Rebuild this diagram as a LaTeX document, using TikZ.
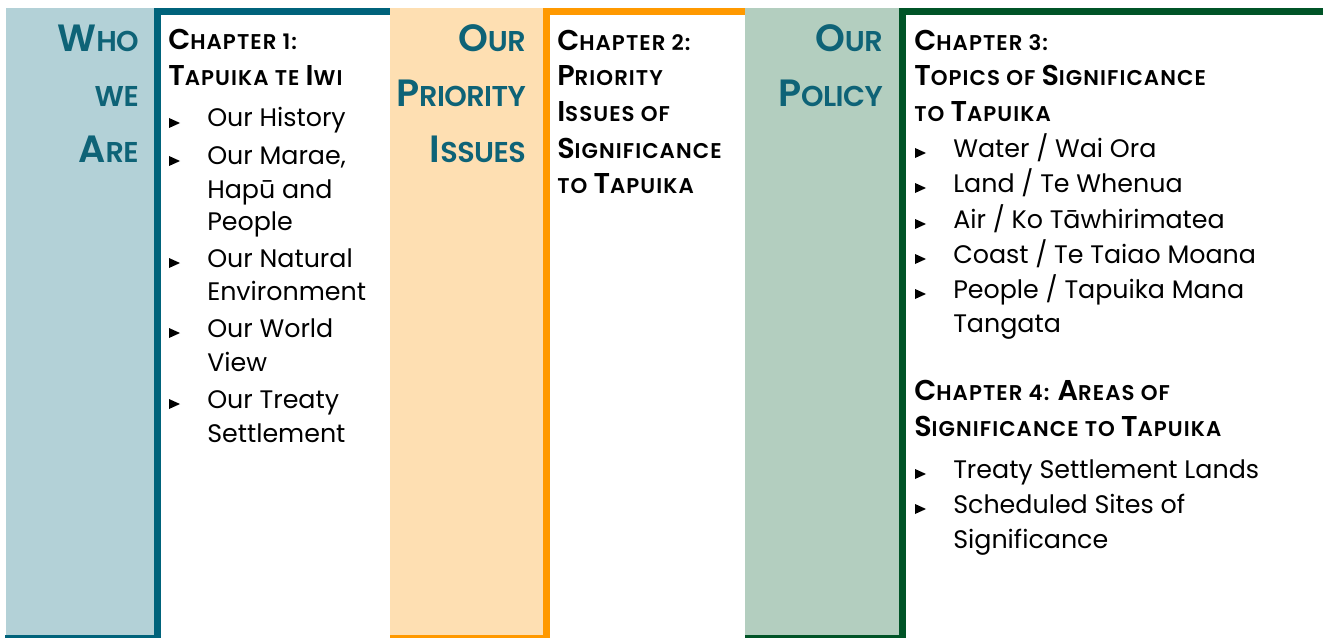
\documentclass[tikz,border=0pt]{standalone}
\usepackage{fontspec}
\setmainfont{Poppins}
\newfontfamily\headfont{Poppins}[UprightFont=* SemiBold]
\usetikzlibrary{positioning}

\definecolor{bluepale}{HTML}{B3D1D7}
\definecolor{bluedark}{HTML}{00637B}
\definecolor{orangepale}{HTML}{FEDFB2}
\definecolor{orangedark}{HTML}{FF9900}
\definecolor{greenpale}{HTML}{B3CEBF}
\definecolor{greendark}{HTML}{005427}
\definecolor{headteal}{HTML}{0E6377}

% fake small caps: first letters bigger
\def\bgsize{30}
\newcommand{\bg}[1]{{\fontsize{\bgsize}{\bgsize}\selectfont #1}}

\tikzset{
  side/.style={anchor=base east, inner sep=0pt, text=headteal,
    font={\def\bgsize{28.5}\fontsize{21.5}{27}\headfont\addfontfeatures{LetterSpace=-2}}},
  chap/.style={anchor=base west, inner sep=0pt, text=black,
    font={\def\bgsize{21.5}\fontsize{16}{20}\headfont\addfontfeatures{LetterSpace=5}}},
  item/.style={anchor=base west, inner sep=0pt, font=\fontsize{19}{23}\selectfont},
  bul/.pic={\fill (0,1) -- (11,-4) -- (0,-9) -- cycle;}
}

\begin{document}
\begin{tikzpicture}[x=0.75pt, y=-0.75pt]
	\useasboundingbox (0,0) rectangle (1323,638);
	% panels
	\fill[bluepale] (6,8) rectangle (154,635);
	\fill[bluedark] (154,8) rectangle (161,638);
	\fill[bluedark] (154,8) rectangle (390,15);
	\fill[bluedark] (5,635) rectangle (161,638);
	\fill[orangepale] (390,8) rectangle (543,635);
	\fill[orangedark] (543,8) rectangle (550,638);
	\fill[orangedark] (543,8) rectangle (745,15);
	\fill[orangedark] (390,635) rectangle (550,638);
	\fill[greenpale] (745,8) rectangle (899,635);
	\fill[greendark] (899,8) rectangle (906,638);
	\fill[greendark] (899,8) rectangle (1323,15);
	\fill[greendark] (745,635) rectangle (906,638);

	% side titles
	\node[side] (who1) at (139,52) {\bg{W}HO};
	\node[side] (who2) at (139,107) {WE};
	\node[side] (who3) at (139,162) {\bg{A}RE};
	\node[side] (prio1) at (526,52) {\bg{O}UR};
	\node[side] (prio2) at (526,107) {\bg{P}RIORITY};
	\node[side] (prio3) at (526,162) {\bg{I}SSUES};
	\node[side] (pol1) at (883,52) {\bg{O}UR};
	\node[side] (pol2) at (883,107) {\bg{P}OLICY};

	% chapter titles
	\node[chap] (ch1a) at (168,50) {\bg{C}HAPTER 1:};
	\node[chap] (ch1b) at (168,86) {\bg{T}APUIKA TE \bg{I}WI};
	\node[chap] (ch2a) at (557,51) {\bg{C}HAPTER 2:};
	\node[chap] (ch2b) at (557,86) {\bg{P}RIORITY};
	\node[chap] (ch2c) at (557,122) {\bg{I}SSUES OF};
	\node[chap] (ch2d) at (557,158) {\bg{S}IGNIFICANCE};
	\node[chap] (ch2e) at (557,193) {TO \bg{T}APUIKA};
	\node[chap] (ch3a) at (914,51) {\bg{C}HAPTER 3:};
	\node[chap] (ch3b) at (914,86) {\bg{T}OPICS OF \bg{S}IGNIFICANCE};
	\node[chap] (ch3c) at (914,122) {TO \bg{T}APUIKA};
	\node[chap] (ch4a) at (914,400) {\bg{C}HAPTER 4: \bg{A}REAS OF};
	\node[chap] (ch4b) at (914,436) {\bg{S}IGNIFICANCE TO \bg{T}APUIKA};

	% chapter 1 list
	\foreach \n/\y/\t in {h1/127/{Our History}, h2/165/{Our Marae,}, h3/198/{Hapū and},
	                      h4/230/{People}, h5/267/{Our Natural}, h6/300/{Environment},
	                      h7/337/{Our World}, h8/371/{View}, h9/408/{Our Treaty},
	                      h10/442/{Settlement}}
		\node[item] (\n) at (207,\y) {\t};
	\foreach \y in {127,165,267,337,408}
		\pic at (169,\y) {bul};

	% chapter 3 and 4 lists
	\foreach \n/\y/\t in {t1/157/{Water / Wai Ora}, t2/192/{Land / Te Whenua},
	                      t3/228/{Air / Ko Tāwhirimatea}, t4/263/{Coast / Te Taiao Moana},
	                      t5/298/{People / Tapuika Mana}, t6/332/{Tangata},
	                      a1/478/{Treaty Settlement Lands}, a2/513/{Scheduled Sites of},
	                      a3/548/{Significance}}
		\node[item] (\n) at (953,\y) {\t};
	\foreach \y in {157,192,228,263,298,478,513}
		\pic at (915,\y) {bul};
\end{tikzpicture}
\end{document}
